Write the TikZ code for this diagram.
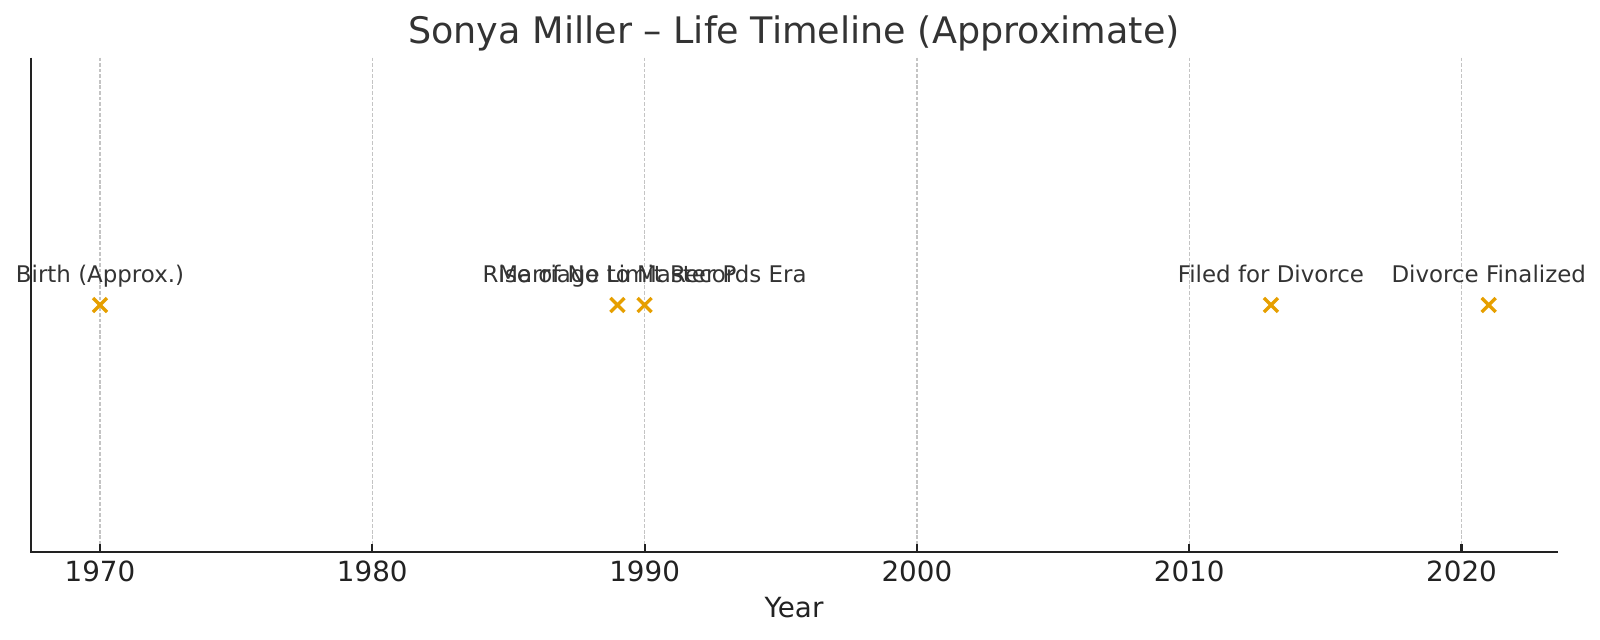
\documentclass[tikz,border=0pt]{standalone}
\usepackage{fontspec}
\setmainfont{DejaVu Sans}
\definecolor{txt}{HTML}{333333}
\definecolor{tk}{HTML}{222222}
\definecolor{gridc}{HTML}{C4C4C4}
\definecolor{mk}{HTML}{E69F00}
\begin{document}
\begin{tikzpicture}[x=0.36pt,y=-0.36pt,
  gridline/.style={gridc,line width=0.45pt,dash pattern=on 1.3pt off 0.7pt},
  spine/.style={tk,line width=0.75pt},
  tickline/.style={tk,line width=0.75pt},
  ticklab/.style={anchor=base,font=\fontsize{10}{12}\selectfont,text=tk,inner sep=0pt},
  evlab/.style={anchor=base,font=\fontsize{8.25}{10}\selectfont,text=txt,inner sep=0pt},
  xmark/.style={mk,line width=1.2pt},
  ]
\useasboundingbox (0,0) rectangle (1600,640);
% axes corners
\coordinate (ol) at (30.7,552.3);
\coordinate (tl) at (30.7,57.7);
\coordinate (br) at (1558,552.3);
% grid lines and ticks
\foreach \yr/\xx in {1970/100,1980/372.3,1990/644.6,2000/916.9,2010/1189.2,2020/1461.5}{
  \draw[gridline] (\xx,57.7) -- (\xx,552.3);
  \draw[tickline] (\xx,552.3) -- (\xx,544);
  \node[ticklab] (t\yr) at (\xx,581.7) {\yr};
}
% spines
\draw[spine] (tl) -- (ol) -- (br);
% events
\foreach \n/\xx in {e1/100,e2/617.4,e3/644.6,e4/1270.9,e5/1488.7}{
  \coordinate (\n) at (\xx,305);
  \draw[xmark] ([shift={(-7,-7)}]\n) -- ([shift={(7,7)}]\n);
  \draw[xmark] ([shift={(-7,7)}]\n) -- ([shift={(7,-7)}]\n);
}
\node[evlab] (l1) at (100,282.3) {Birth (Approx.)};
\node[evlab] (l2) at (617.4,282.3) {Marriage to Master P};
\node[evlab] (l3) at (644.6,282.3) {Rise of No Limit Records Era};
\node[evlab] (l4) at (1270.9,282.3) {Filed for Divorce};
\node[evlab] (l5) at (1488.7,282.3) {Divorce Finalized};
% labels
\node[anchor=base,font=\fontsize{10}{12}\selectfont,text=tk,inner sep=0pt] (xlab) at (794,617.3) {Year};
\node[anchor=base,font=\fontsize{13.15}{15}\selectfont,text=txt,inner sep=0pt] (title) at (794,43.3) {Sonya Miller – Life Timeline (Approximate)};
\end{tikzpicture}
\end{document}
